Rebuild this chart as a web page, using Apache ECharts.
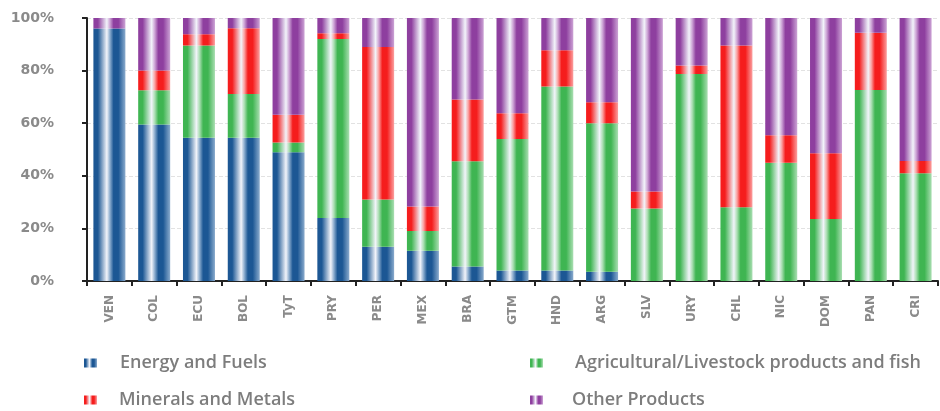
<!DOCTYPE html>
<html>
<head>
<meta charset="utf-8">
<script src="https://cdn.jsdelivr.net/npm/echarts@6/dist/echarts.min.js"></script>
<style>html,body{margin:0;padding:0;background:#fff;}#c{width:940px;height:411px;}</style>
</head>
<body>
<div id="c"></div>
<script>
var categories = ['VEN','COL','ECU','BOL','TyT','PRY','PER','MEX','BRA','GTM','HND','ARG','SLV','URY','CHL','NIC','DOM','PAN','CRI'];
var energy   = [96, 59.5, 54.5, 54.5, 49, 24, 13, 11.5, 5.5, 4, 4, 3.5, 0, 0, 0, 0, 0, 0, 0];
var agri     = [0, 13, 35, 16.6, 3.7, 68, 18, 7.5, 40, 50, 70, 56.5, 27.6, 78.7, 28, 45, 23.6, 72.6, 41];
var minerals = [0, 7.5, 4.3, 25, 10.5, 2.2, 58, 9.3, 23.5, 9.8, 13.7, 8, 6.4, 3.2, 61.5, 10.4, 25, 21.8, 4.6];
var other    = [4, 20, 6.2, 3.9, 36.8, 5.8, 11, 71.7, 31, 36.2, 12.3, 32, 66, 18.1, 10.5, 44.6, 51.4, 5.6, 54.4];
var yTicks = [0, 20, 40, 60, 80, 100];

function grad(dark, light) {
  return new echarts.graphic.LinearGradient(0, 0, 1, 0, [
    {offset: 0, color: dark},
    {offset: 0.14, color: dark},
    {offset: 0.42, color: '#f2f4fa'},
    {offset: 0.52, color: light},
    {offset: 0.63, color: dark},
    {offset: 0.78, color: dark},
    {offset: 1, color: light}
  ]);
}
var cBlue = grad('#1c5794', '#8aabcd');
var cGreen = grad('#3fb552', '#aadeb2');
var cRed = grad('#f51d1d', '#fba0a0');
var cPurple = grad('#8e3f9f', '#cca3d5');

function mk(name, data, color) {
  return {
    name: name, type: 'bar', stack: 's', data: data, barWidth: 32,
    itemStyle: {color: color}, emphasis: {disabled: true}
  };
}

function leg(name, left, top, pad) {
  return {
    left: left, top: top, padding: 0, orient: 'horizontal',
    itemWidth: 13, itemHeight: 9, icon: 'rect', data: [name],
    textStyle: {fontFamily: 'Open Sans', fontSize: 18, fontWeight: 600, color: '#7d7d7d',
      lineHeight: 20, padding: [0, 0, 0, pad]}
  };
}

var chart = echarts.init(document.getElementById('c'));
chart.setOption({
  animation: false,
  grid: {left: 87, right: 2, top: 18, bottom: 130, containLabel: false},
  legend: [
    leg('Energy and Fuels', 84, 353, 18),
    leg('Minerals and Metals', 84, 390, 17),
    leg('Agricultural/Livestock products and fish', 530, 353, 27),
    leg('Other Products', 530, 390, 24)
  ],
  xAxis: {
    type: 'category', data: categories,
    axisLine: {lineStyle: {color: '#222', width: 2}},
    axisTick: {show: true, length: 5, lineStyle: {color: '#222', width: 2}},
    axisLabel: {rotate: 90, margin: 14, color: '#8a8a8a', fontFamily: 'DejaVu Sans', fontSize: 12, fontWeight: 'bold'}
  },
  yAxis: {
    type: 'value', min: 0, max: 100, interval: 20,
    axisLine: {show: true, lineStyle: {color: '#222', width: 2}},
    axisTick: {show: true, length: 5, lineStyle: {color: '#222', width: 2}},
    axisLabel: {margin: 33, color: '#8a8a8a', fontFamily: 'DejaVu Sans', fontSize: 14, fontWeight: 'bold',
      formatter: function (v) { return yTicks.indexOf(v) >= 0 ? v + '%' : ''; }},
    splitLine: {show: true, lineStyle: {color: '#e2e2e2', type: 'dashed'}}
  },
  series: [
    mk('Energy and Fuels', energy, cBlue),
    mk('Agricultural/Livestock products and fish', agri, cGreen),
    mk('Minerals and Metals', minerals, cRed),
    mk('Other Products', other, cPurple)
  ]
});
</script>
</body>
</html>
